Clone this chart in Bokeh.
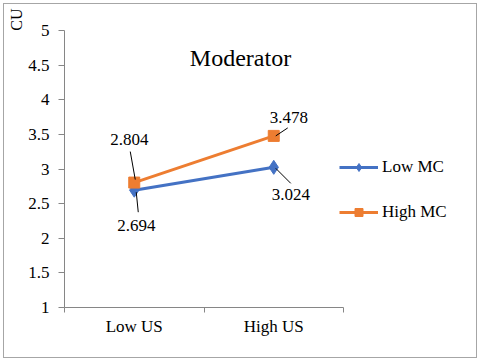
import math
from bokeh.plotting import figure
from bokeh.models import (Range1d, FixedTicker, NumeralTickFormatter, Label, Title,
                          Legend, LegendItem, ColumnDataSource)
from bokeh.core.properties import value
from bokeh.embed import file_html
from bokeh.resources import INLINE

# ---- data ----
categories = ["Low US", "High US"]
low_mc = [2.694, 3.024]
high_mc = [2.804, 3.478]
y_ticks = [1, 1.5, 2, 2.5, 3, 3.5, 4, 4.5, 5]
series_names = ["Low MC", "High MC"]
title_text = "Moderator"
y_title = "CU"

FONT = "'Liberation Serif', 'Times New Roman', serif"
BLUE = "#4472C4"
ORANGE = "#ED7D31"
AXIS = "#868686"

xs = [i + 0.5 for i in range(len(categories))]
bounds = [float(i) for i in range(len(categories) + 1)]

# geometry (pixels)
FL, FT, FB, FR = 64, 30, 307, 475   # frame edges
AXIS_RIGHT = 343                     # where the category axis ends
px_x = (AXIS_RIGHT - FL) / len(categories)
px_y = (FB - FT) / (y_ticks[-1] - y_ticks[0])

p = figure(width=480, height=361, output_backend="svg", toolbar_location=None,
           x_range=Range1d(0, (FR - FL) / px_x),
           y_range=Range1d(y_ticks[0], y_ticks[-1]),
           min_border_left=FL, min_border_right=480 - FR, min_border_top=FT,
           min_border_bottom=361 - FB)
p.styles = {"background-color": "white",
            "box-shadow": "inset 0 0 0 3px white, inset 0 0 0 4px #a6a6a6"}
p.xgrid.visible = False
p.ygrid.visible = False
p.outline_line_color = None
p.background_fill_alpha = 0
p.border_fill_alpha = 0

# x axis
xa = p.xaxis[0]
xa.bounds = (0, len(categories))
xa.ticker = FixedTicker(ticks=xs, minor_ticks=bounds)
xa.major_label_overrides = {x: c for x, c in zip(xs, categories)}
xa.major_tick_out = 0
xa.major_tick_in = 0
xa.minor_tick_out = 5
xa.minor_tick_in = 0
xa.axis_line_color = AXIS
xa.minor_tick_line_color = AXIS
xa.major_label_standoff = 4
xa.major_label_text_font = FONT
xa.major_label_text_font_size = "17px"
xa.major_label_text_color = "black"

# y axis
ya = p.yaxis[0]
ya.ticker = FixedTicker(ticks=y_ticks)
ya.formatter = NumeralTickFormatter(format="0.[0]")
ya.major_tick_out = 6
ya.major_tick_in = 0
ya.minor_tick_line_color = None
ya.axis_line_color = AXIS
ya.major_tick_line_color = AXIS
ya.major_label_standoff = 9
ya.major_label_text_font = FONT
ya.major_label_text_font_size = "17px"
ya.major_label_text_color = "black"

# series
bl = p.line(xs, low_mc, line_color=BLUE, line_width=3)
bm = p.scatter(xs, low_mc, marker="diamond", size=14, fill_color=BLUE, line_color=BLUE)
ol = p.line(xs, high_mc, line_color=ORANGE, line_width=3)
om = p.scatter(xs, high_mc, marker="square", size=11, fill_color=ORANGE, line_color=ORANGE)

# data labels with leader lines (pixel offsets, screen y down)
def add_labels(vals, text_off, lead_off):
    src = ColumnDataSource(dict(
        x=xs, y=vals, t=["%.3f" % v for v in vals],
        dx=[o[0] for o in text_off], dy=[o[1] for o in text_off],
        x0=[x + l[0] / px_x for x, l in zip(xs, lead_off)],
        y0=[y - l[1] / px_y for y, l in zip(vals, lead_off)],
        x1=[x + l[2] / px_x for x, l in zip(xs, lead_off)],
        y1=[y - l[3] / px_y for y, l in zip(vals, lead_off)],
    ))
    p.segment("x0", "y0", "x1", "y1", source=src, line_color="black", line_width=1)
    p.text("x", "y", text="t", x_offset="dx", y_offset="dy", source=src,
           text_align="center", text_baseline="middle",
           text_font=value(FONT), text_font_size="17px", text_color="black")

add_labels(high_mc, [(-5, -43), (15, -18)], [(-4, -31, 1, -3), (2, 0, 14, -8)])
add_labels(low_mc, [(2, 35), (17, 27)], [(2, 2, 4, 22), (2, 1, 17, 16)])

# legend
legend = Legend(items=[LegendItem(label=series_names[0], renderers=[bl, bm]),
                       LegendItem(label=series_names[1], renderers=[ol, om])],
                location=(275, 85), glyph_width=39, glyph_height=20, label_height=20,
                spacing=25, padding=0, margin=0, border_line_color=None,
                background_fill_alpha=0, label_standoff=4,
                label_text_font=FONT, label_text_font_size="17px", label_text_color="black")
p.add_layout(legend)

# chart title inside the plot
p.add_layout(Label(x=240 - FL, y=FB - 57, x_units="screen", y_units="screen", text=title_text,
                   text_align="center", text_baseline="middle", text_font=FONT,
                   text_font_size="24px", text_color="black"))
# y title at top-left
p.add_layout(Title(text=y_title, align="right", offset=-22, text_font=FONT,
                   text_font_size="16px", text_font_style="normal", text_color="black",
                   standoff=2), "left")

open("out.html", "w").write(file_html(p, INLINE))
